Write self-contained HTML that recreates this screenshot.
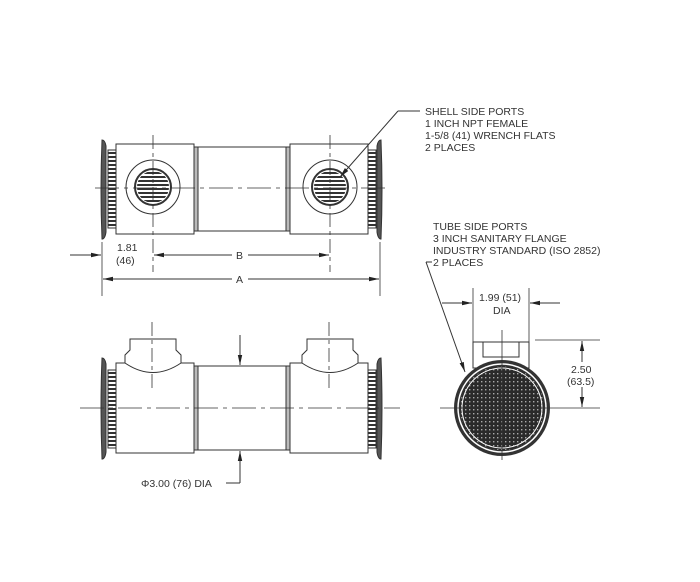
<!DOCTYPE html>
<html><head><meta charset="utf-8"><style>
html,body{margin:0;padding:0;background:#fff;}
svg{display:block;}
text{font-family:"Liberation Sans",Arial,sans-serif;font-size:10.5px;fill:#333;}
</style></head><body>
<svg width="700" height="582" viewBox="0 0 700 582" xmlns="http://www.w3.org/2000/svg">
<defs>
<marker id="ar" markerWidth="10" markerHeight="6" refX="10" refY="3" orient="auto" markerUnits="userSpaceOnUse">
<path d="M0,0.8 L10,3 L0,5.2 Z" fill="#222"/></marker>
<pattern id="grid" width="4" height="4" patternUnits="userSpaceOnUse">
<rect width="4" height="4" fill="#2a2a2a"/><rect x="1" y="1" width="1.4" height="1.4" fill="#aaa"/></pattern>
<pattern id="rib" width="8" height="4" patternUnits="userSpaceOnUse">
<rect width="8" height="4" fill="#fff"/><rect width="8" height="2" fill="#333"/></pattern>
<clipPath id="gl"><circle cx="153" cy="187" r="16"/></clipPath>
<clipPath id="gr"><circle cx="330" cy="187" r="16"/></clipPath>
</defs>
<g stroke="#333" stroke-width="1" fill="none">
<!-- TOP VIEW -->
<path d="M102,140 Q105,140 106,146 L106,232 Q105,239 102,239 Q100,190 102,140Z" fill="#555"/>
<rect x="108" y="150" width="8" height="78" fill="url(#rib)"/>
<rect x="116" y="144" width="78" height="90" fill="#fff"/>
<rect x="194" y="147" width="96" height="84" fill="#fff"/>
<rect x="194" y="147" width="4" height="84" fill="#bbb"/>
<rect x="286" y="147" width="4" height="84" fill="#bbb"/>
<rect x="290" y="144" width="78" height="90" fill="#fff"/>
<rect x="368" y="150" width="8" height="78" fill="url(#rib)"/>
<path d="M381,140 Q378,140 377,146 L377,232 Q378,239 381,239 Q383,190 381,140Z" fill="#555"/>
<circle cx="153" cy="187" r="27" fill="#fff"/>
<circle cx="153" cy="187" r="18" fill="#fff" stroke-width="2"/>
<g clip-path="url(#gl)"><rect x="130" y="165" width="46" height="44" fill="url(#rib)"/></g>
<circle cx="330" cy="187" r="27" fill="#fff"/>
<circle cx="330" cy="187" r="18" fill="#fff" stroke-width="2"/>
<g clip-path="url(#gr)"><rect x="307" y="165" width="46" height="44" fill="url(#rib)"/></g>
<line x1="95" y1="188" x2="390" y2="188" stroke-dasharray="24,5,4,5" stroke-width="0.8"/>
<line x1="153" y1="135" x2="153" y2="272" stroke-dasharray="14,4,4,4" stroke-width="0.8"/>
<line x1="330" y1="135" x2="330" y2="272" stroke-dasharray="14,4,4,4" stroke-width="0.8"/>
<line x1="102" y1="242" x2="102" y2="296" stroke-width="0.8"/>
<line x1="380" y1="242" x2="380" y2="296" stroke-width="0.8"/>
<line x1="70" y1="255" x2="101" y2="255" marker-end="url(#ar)"/>
<line x1="180" y1="255" x2="154" y2="255" marker-end="url(#ar)"/>
<line x1="232" y1="255" x2="180" y2="255"/>
<line x1="248" y1="255" x2="329" y2="255" marker-end="url(#ar)"/>
<line x1="232" y1="279" x2="103" y2="279" marker-end="url(#ar)"/>
<line x1="248" y1="279" x2="379" y2="279" marker-end="url(#ar)"/>
<line x1="420" y1="111" x2="398" y2="111"/>
<line x1="398" y1="111" x2="340" y2="177" marker-end="url(#ar)"/>

<!-- BOTTOM VIEW -->
<path d="M102,358 Q105,358 106,364 L106,452 Q105,459 102,459 Q100,408 102,358Z" fill="#555"/>
<rect x="108" y="370" width="8" height="78" fill="url(#rib)"/>
<rect x="116" y="363" width="78" height="90" fill="#fff"/>
<rect x="194" y="366" width="96" height="84" fill="#fff"/>
<rect x="194" y="366" width="4" height="84" fill="#bbb"/>
<rect x="286" y="366" width="4" height="84" fill="#bbb"/>
<rect x="290" y="363" width="78" height="90" fill="#fff"/>
<rect x="368" y="370" width="8" height="78" fill="url(#rib)"/>
<path d="M381,358 Q378,358 377,364 L377,452 Q378,459 381,459 Q383,408 381,358Z" fill="#555"/>
<path d="M125,363 L125,355 L130,350 L130,339 L176,339 L176,350 L181,355 L181,363 Q153,382 125,363Z" fill="#fff"/>
<path d="M302,363 L302,355 L307,350 L307,339 L353,339 L353,350 L358,355 L358,363 Q330,382 302,363Z" fill="#fff"/>
<line x1="80" y1="408" x2="400" y2="408" stroke-dasharray="24,5,4,5" stroke-width="0.8"/>
<line x1="152" y1="322" x2="152" y2="392" stroke-dasharray="14,4,4,4" stroke-width="0.8"/>
<line x1="329" y1="322" x2="329" y2="392" stroke-dasharray="14,4,4,4" stroke-width="0.8"/>
<line x1="240" y1="335" x2="240" y2="365" marker-end="url(#ar)"/>
<line x1="240" y1="483" x2="240" y2="451" marker-end="url(#ar)"/>
<line x1="226" y1="483" x2="240" y2="483"/>

<!-- RIGHT VIEW -->
<rect x="473" y="342" width="56" height="26" fill="#fff"/>
<rect x="483" y="342" width="36" height="15" fill="#fff"/>
<circle cx="502" cy="408" r="48" fill="#333" stroke="none"/>
<circle cx="502" cy="408" r="44" fill="none" stroke="#fff" stroke-width="1.5"/>
<circle cx="502" cy="408" r="42" fill="url(#grid)" stroke="none"/>
<circle cx="502" cy="408" r="40" fill="none" stroke="#fff" stroke-width="1"/>
<line x1="440" y1="408" x2="600" y2="408" stroke-width="0.8"/>
<line x1="502" y1="330" x2="502" y2="460" stroke-width="0.8"/>
<line x1="473" y1="288" x2="473" y2="342" stroke-width="0.8"/>
<line x1="529" y1="288" x2="529" y2="342" stroke-width="0.8"/>
<line x1="442" y1="303" x2="472" y2="303" marker-end="url(#ar)"/>
<line x1="560" y1="303" x2="530" y2="303" marker-end="url(#ar)"/>
<line x1="535" y1="340" x2="600" y2="340" stroke-width="0.8"/>
<line x1="582" y1="362" x2="582" y2="341" marker-end="url(#ar)"/>
<line x1="582" y1="387" x2="582" y2="407" marker-end="url(#ar)"/>
<line x1="432" y1="262" x2="426" y2="262"/>
<line x1="426" y1="262" x2="465" y2="372" marker-end="url(#ar)"/>
</g>
<text x="425" y="115">SHELL SIDE PORTS</text>
<text x="425" y="127">1 INCH NPT FEMALE</text>
<text x="425" y="139">1-5/8 (41) WRENCH FLATS</text>
<text x="425" y="151">2 PLACES</text>
<text x="117" y="251">1.81</text>
<text x="116" y="264">(46)</text>
<text x="236" y="259">B</text>
<text x="236" y="283">A</text>
<text x="141" y="487">Φ3.00 (76) DIA</text>
<text x="433" y="230">TUBE SIDE PORTS</text>
<text x="433" y="242">3 INCH SANITARY FLANGE</text>
<text x="433" y="254">INDUSTRY STANDARD (ISO 2852)</text>
<text x="433" y="266">2 PLACES</text>
<text x="479" y="301">1.99 (51)</text>
<text x="493" y="314">DIA</text>
<text x="571" y="373">2.50</text>
<text x="567" y="385">(63.5)</text>
</svg>
</body></html>
